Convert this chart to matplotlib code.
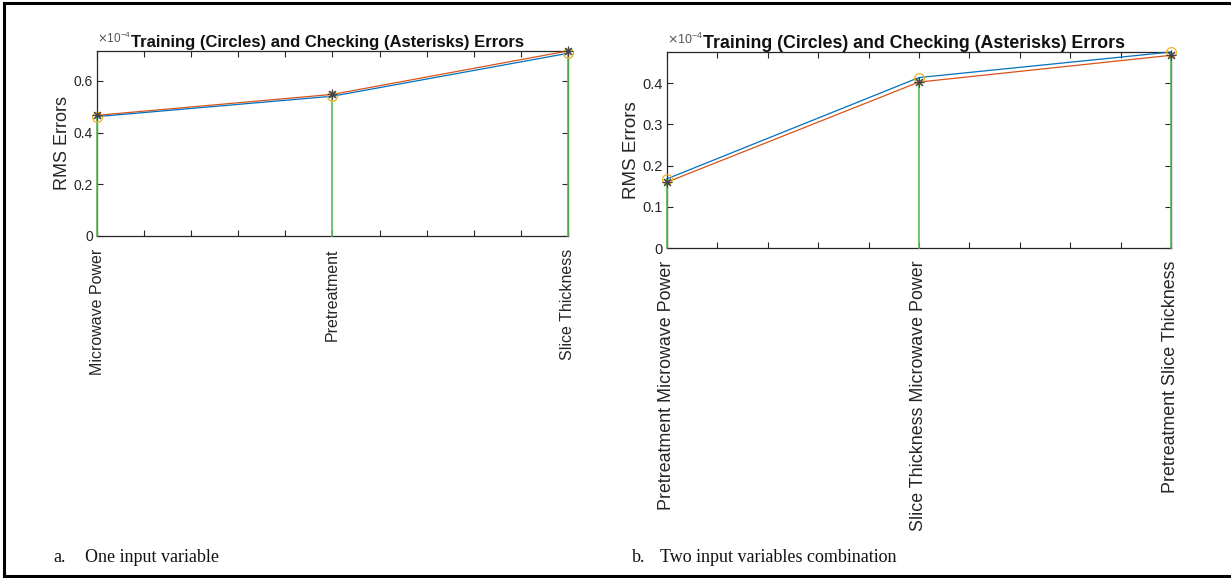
import matplotlib.pyplot as plt
from matplotlib.lines import Line2D

plt.rcParams['font.family'] = ['Liberation Sans', 'DejaVu Sans']

# RMS errors in units of 1e-4, one entry per input (or input pair)
one_inputs = ['Microwave Power', 'Pretreatment', 'Slice Thickness']
one_trn = [0.462, 0.541, 0.707]
one_chk = [0.467, 0.548, 0.716]

two_inputs = ['Pretreatment Microwave Power', 'Slice Thickness Microwave Power',
              'Pretreatment Slice Thickness']
two_trn = [0.168, 0.414, 0.476]
two_chk = [0.160, 0.403, 0.468]

captions = [('a.', 'One input variable'), ('b.', 'Two input variables combination')]

TXT = '#262626'
BLUE = '#0072BD'
ORANGE = '#D95319'
YELLOW = '#EDB120'
GREEN = '#55C055'


def err_panel(ax, names, trn, chk, yticks, fs):
    idx = list(range(1, len(names) + 1))
    # green stems from zero up to the training error
    for i, v in zip(idx, trn):
        ax.plot([i, i], [0, v], color=GREEN, lw=1.2, zorder=3, clip_on=False)
    ax.plot(idx, chk, color=ORANGE, lw=0.9, zorder=4, clip_on=False)
    ax.plot(idx, trn, color=BLUE, lw=0.9, zorder=4, clip_on=False)
    ax.plot(idx, trn, 'o', ms=7, mfc='none', mec=YELLOW, mew=0.9, zorder=5, clip_on=False)
    ax.plot(idx, chk, marker=(8, 2, 0), ls='none', ms=7, color='#444444', mew=0.8,
            zorder=6, clip_on=False)

    ax.set_xlim(1, len(names))
    ax.set_ylim(0, max(max(trn), max(chk)))
    ax.set_xticks([1 + 0.2 * k for k in range(11)])
    ax.set_xticklabels([names[k // 5] if k % 5 == 0 else '' for k in range(11)],
                       rotation=90, va='top', ha='center', fontsize=fs['x'], color=TXT)
    ax.set_yticks(yticks)
    ax.set_yticklabels(['%g' % t for t in yticks], fontsize=fs['y'], color=TXT)
    ax.tick_params(direction='in', top=True, right=True, length=4, width=0.8, color=TXT, pad=3)
    ax.tick_params(axis='x', pad=9)
    for s in ax.spines.values():
        s.set_color(TXT)
        s.set_linewidth(0.9)
    ax.set_ylabel('RMS Errors', fontsize=fs['lab'], color=TXT, labelpad=2)
    ax.set_title('Training (Circles) and Checking (Asterisks) Errors', fontsize=fs['title'],
                 fontweight='bold', color='#111111', pad=3, x=0.49)
    ax.text(0, 1.025, r'$\times\mathdefault{10^{-4}}$', transform=ax.transAxes,
            ha='left', va='bottom', fontsize=fs['exp'], color='#555555')


fig = plt.figure(figsize=(12.31, 5.78), dpi=100)
ax1 = fig.add_axes([0.0788, 0.5917, 0.3826, 0.3201])
ax2 = fig.add_axes([0.5418, 0.5709, 0.4094, 0.3391])

err_panel(ax1, one_inputs, one_trn, one_chk, [0, 0.2, 0.4, 0.6],
          {'x': 11.5, 'y': 10, 'lab': 13, 'title': 12, 'exp': 8.5})
err_panel(ax2, two_inputs, two_trn, two_chk, [0, 0.1, 0.2, 0.3, 0.4],
          {'x': 12.9, 'y': 10.5, 'lab': 13.5, 'title': 12.8, 'exp': 9})

for (tag, txt), x0, x1 in [(captions[0], 0.043, 0.069), (captions[1], 0.513, 0.536)]:
    fig.text(x0, 0.027, tag, fontsize=13, family='Liberation Serif', color='#111111')
    fig.text(x1, 0.027, txt, fontsize=13, family='Liberation Serif', color='#111111')

# page frame: top, left and bottom edges
for xs, ys in [([0.003, 1.0], [0.994, 0.994]), ([0.0035, 0.0035], [0.003, 0.994]),
               ([0.003, 1.0], [0.003, 0.003])]:
    fig.add_artist(Line2D(xs, ys, color='black', lw=2.2, transform=fig.transFigure))

fig.savefig('out.png', dpi=100)
